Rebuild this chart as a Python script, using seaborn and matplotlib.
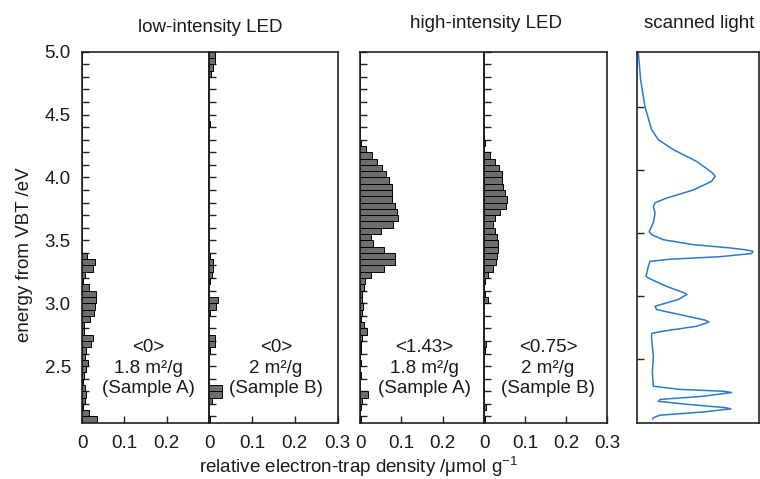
"""
Electron-trap distributions (low/high intensity LED) next to the scanned light spectrum
"""
import numpy as np
import pandas as pd
import matplotlib.pyplot as plt
from matplotlib.ticker import MultipleLocator, FixedLocator, FixedFormatter
import seaborn as sns

# energy bins, 0.05 eV wide, 2.05 .. 5.00 eV (59 bins), values listed bottom -> top
bin_lo = np.round(np.arange(2.05, 4.9999, 0.05), 3)

low_a = [0.035, 0.017, 0.002, 0.008, 0.010, 0.008, 0.002, 0.005, 0.010, 0.014,
         0.008, 0.010, 0.022, 0.027, 0.005, 0.004, 0.018, 0.028, 0.030, 0.033,
         0.033, 0.017, 0.003, 0.007, 0.027, 0.030, 0.011] + [0.0] * 32

low_b = [0.003, 0.001, 0.001, 0.008, 0.030, 0.030, 0.001, 0.0, 0.0, 0.0,
         0.001, 0.003, 0.013, 0.014, 0.001, 0.0, 0.001, 0.003, 0.017, 0.020,
         0.001, 0.001, 0.002, 0.008, 0.010, 0.010, 0.003, 0.001] \
    + [0.0] * 19 + [0.003] + [0.0] * 7 + [0.004, 0.009, 0.015, 0.015]

high_a = [0.002, 0.001, 0.002, 0.004, 0.020, 0.001, 0.001, 0.002, 0.001, 0.002,
          0.001, 0.002, 0.002, 0.004, 0.018, 0.010, 0.002, 0.006, 0.007, 0.004,
          0.004, 0.009, 0.012, 0.026, 0.057, 0.084, 0.084, 0.057, 0.031, 0.027,
          0.052, 0.080, 0.092, 0.089, 0.085, 0.078, 0.078, 0.078, 0.071, 0.064,
          0.054, 0.040, 0.029, 0.014, 0.003] + [0.0] * 14

high_b = [0.002, 0.001, 0.005, 0.001, 0.001, 0.001, 0.0, 0.001, 0.0, 0.001,
          0.001, 0.002, 0.006, 0.001, 0.0, 0.0, 0.001, 0.0, 0.001, 0.009,
          0.002, 0.001, 0.002, 0.010, 0.022, 0.029, 0.031, 0.033, 0.033, 0.031,
          0.028, 0.023, 0.026, 0.040, 0.053, 0.057, 0.051, 0.047, 0.045, 0.043,
          0.037, 0.027, 0.014, 0.001, 0.002] + [0.0] * 14

panel_notes = ["<0>\n1.8 m²/g\n(Sample A)", "<0>\n2 m²/g\n(Sample B)",
               "<1.43>\n1.8 m²/g\n(Sample A)", "<0.75>\n2 m²/g\n(Sample B)"]

# scanned light trace (relative intensity vs energy), read top -> bottom
light_int = [0.01, 0.03, 0.066, 0.12, 0.175, 0.30, 0.49, 0.585, 0.625, 0.64, 0.61,
             0.46, 0.24, 0.15, 0.134, 0.148, 0.134, 0.10, 0.12, 0.216, 0.46,
             0.76, 0.89, 0.95, 0.94, 0.68, 0.27, 0.107, 0.093, 0.074, 0.093, 0.24,
             0.38, 0.41, 0.34, 0.148, 0.16, 0.41, 0.56, 0.59, 0.49, 0.216, 0.12, 0.12,
             0.134, 0.126, 0.134, 0.35, 0.71, 0.776, 0.54, 0.19, 0.175, 0.41, 0.72,
             0.77, 0.54, 0.19, 0.134, 0.128]
light_energy = [5.0, 4.775, 4.56, 4.38, 4.30, 4.22, 4.127, 4.06, 4.03, 4.008, 3.968,
                3.90, 3.835, 3.80, 3.77, 3.717, 3.64, 3.57, 3.545, 3.505, 3.466,
                3.44, 3.425, 3.413, 3.395, 3.37, 3.35, 3.333, 3.294, 3.214, 3.20, 3.135,
                3.085, 3.07, 3.03, 2.976, 2.95, 2.897, 2.865, 2.85, 2.817, 2.778, 2.76,
                2.712, 2.58, 2.448, 2.34, 2.315, 2.30, 2.29, 2.26, 2.235, 2.22, 2.196,
                2.17, 2.16, 2.135, 2.11, 2.09, 2.077]

sns.set_style("ticks")
ink = '#1a1a1a'
plt.rcParams['font.family'] = ['Liberation Sans', 'DejaVu Sans']
plt.rcParams['mathtext.fontset'] = 'custom'
plt.rcParams['mathtext.rm'] = 'Liberation Sans'
plt.rcParams['mathtext.it'] = 'Liberation Sans:italic'
plt.rcParams['text.color'] = ink
plt.rcParams['xtick.color'] = ink
plt.rcParams['ytick.color'] = ink

fig = plt.figure(figsize=(7.6, 4.79), dpi=100)
W, H = 760, 479
bottom, top = 422.7, 51.7


def add_panel(x0, x1):
    return fig.add_axes([x0 / W, 1 - bottom / H, (x1 - x0) / W, (bottom - top) / H])


boxes = [(82, 209), (209, 337.7), (360, 484), (484, 607)]
datasets = [low_a, low_b, high_a, high_b]
spine_col = '#222222'

for i, ((x0, x1), vals) in enumerate(zip(boxes, datasets)):
    ax = add_panel(x0, x1)
    df = pd.DataFrame({'energy': bin_lo + 0.025, 'density': vals})
    sns.histplot(data=df, y='energy', weights='density', binwidth=0.05,
                 binrange=(2.05, 5.0), ax=ax, color='#6e6e6e',
                 edgecolor='black', linewidth=0.7, alpha=1)
    ax.set_xlim(0, 0.3)
    ax.set_ylim(2.05, 5.0)
    ax.set_xlabel('')
    ax.set_ylabel('')
    for s in ax.spines.values():
        s.set_visible(True)
        s.set_color(spine_col)
        s.set_linewidth(1.2)
    ax.yaxis.set_major_locator(MultipleLocator(0.5))
    ax.yaxis.set_minor_locator(MultipleLocator(0.1))
    ax.tick_params(axis='y', which='both', direction='in', length=5, width=1,
                   color=spine_col, labelsize=13.5, pad=8, right=False)
    if i == 0:
        ax.yaxis.set_major_formatter(plt.FuncFormatter(lambda v, p: f'{v:.1f}'))
    else:
        ax.tick_params(axis='y', labelleft=False)
    xt = [0, 0.1, 0.2, 0.3] if i in (1, 3) else [0, 0.1, 0.2]
    ax.xaxis.set_major_locator(FixedLocator(xt))
    ax.xaxis.set_major_formatter(FixedFormatter(['0', '0.1', '0.2', '0.3'][:len(xt)]))
    ax.tick_params(axis='x', which='both', direction='in', length=5, width=1,
                   color=spine_col, labelsize=13.5, pad=9, top=False)
    ax.text(0.52, 0.147, panel_notes[i], transform=ax.transAxes, ha='center',
            va='center', fontsize=13.5, linespacing=1.25)

# scanned light panel
ax5 = add_panel(637, 759)
sns.lineplot(x=light_int, y=light_energy, sort=False, estimator=None, ax=ax5,
             color='#2a7ad0', linewidth=1.1)
ax5.set_xlim(0, 1)
ax5.set_ylim(2.05, 5.0)
ax5.set_xlabel('')
ax5.set_ylabel('')
for s in ax5.spines.values():
    s.set_visible(True)
    s.set_color(spine_col)
    s.set_linewidth(1.2)
ax5.set_xticks([])
ax5.set_yticks([4.56, 4.06, 3.56, 3.06, 2.56])
ax5.tick_params(axis='y', direction='in', length=5, width=1, color=spine_col,
                labelleft=False)

fig.text(210 / W, 1 - 27 / H, 'low-intensity LED', ha='center', va='center', fontsize=13.5)
fig.text(486 / W, 1 - 23 / H, 'high-intensity LED', ha='center', va='center', fontsize=13.5)
fig.text(699 / W, 1 - 23 / H, 'scanned light', ha='center', va='center', fontsize=13.5)
fig.text(25 / W, 1 - 255 / H, 'energy from VBT /eV', rotation=90, ha='center',
         va='center', fontsize=13.5)
fig.text(359 / W, 1 - 467 / H, r'relative electron-trap density /μmol g$^{\mathregular{-1}}$',
         ha='center', va='center', fontsize=13.5)

fig.savefig('out.png', dpi=100)
